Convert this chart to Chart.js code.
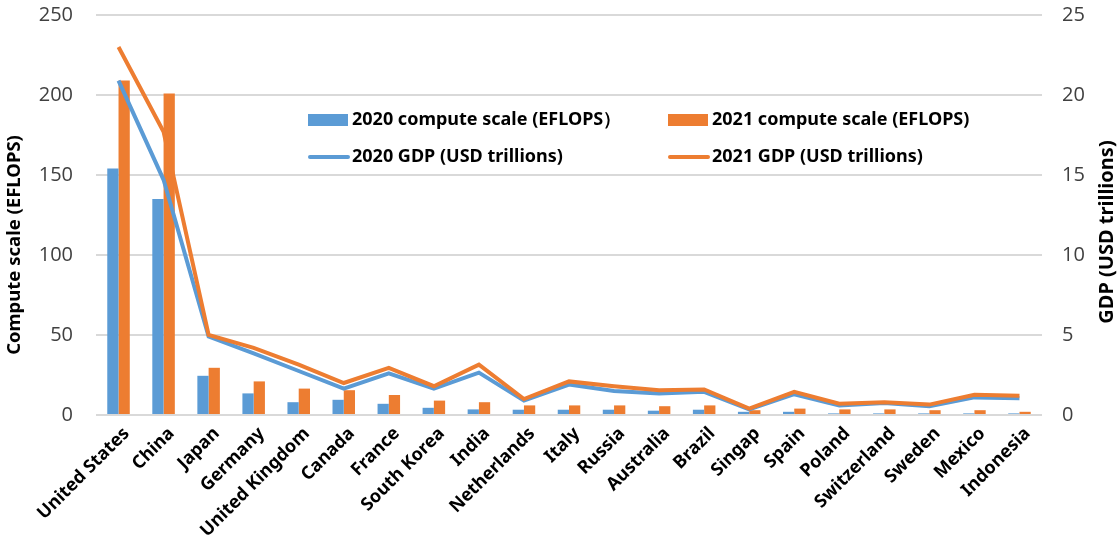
<!DOCTYPE html>
<html>
<head>
<meta charset="utf-8">
<title>Compute scale and GDP by country</title>
<script src="https://cdn.jsdelivr.net/npm/chart.js@4.4.1/dist/chart.umd.min.js"></script>
<style>
  html, body { margin: 0; padding: 0; background: #fff; }
  #wrap { width: 1117px; height: 542px; position: relative; }
</style>
</head>
<body>
<div id="wrap"><canvas id="computeChart"></canvas></div>
<script>
// data
const countries = ['United States', 'China', 'Japan', 'Germany', 'United Kingdom', 'Canada', 'France',
  'South Korea', 'India', 'Netherlands', 'Italy', 'Russia', 'Australia', 'Brazil', 'Singap', 'Spain',
  'Poland', 'Switzerland', 'Sweden', 'Mexico', 'Indonesia'];
const compute2020 = [154, 135, 24.5, 13.5, 8, 9.5, 7, 4.5, 3.5, 3.3, 3.3, 3.3, 2.7, 3.3, 2, 2, 1, 1, 1, 1, 1];
const compute2021 = [209, 201, 29.5, 21, 16.5, 15.5, 12.5, 9, 8, 6, 6, 6, 5.5, 6, 3, 4, 3.5, 3.5, 3, 3, 2];
const gdp2020 = [20.9, 14.7, 4.9, 3.85, 2.75, 1.65, 2.6, 1.65, 2.65, 0.9, 1.9, 1.5, 1.35, 1.45, 0.35, 1.3, 0.6, 0.75, 0.55, 1.1, 1.05];
const gdp2021 = [23.0, 17.7, 5.0, 4.2, 3.15, 2.0, 2.95, 1.8, 3.15, 1.0, 2.1, 1.8, 1.55, 1.6, 0.4, 1.45, 0.7, 0.8, 0.65, 1.27, 1.2];
const computeTicks = [0, 50, 100, 150, 200, 250];
const gdpTicks = [0, 5, 10, 15, 20, 25];

const BLUE = '#5b9bd5';
const ORANGE = '#ed7d31';
const boldFont = '"Noto Sans", "DejaVu Sans", sans-serif';
const tickFont = '"Open Sans", "Noto Sans", sans-serif';

// legend drawn as a 2x2 block inside the plot area
const gridLegend = {
  id: 'gridLegend',
  afterDraw(chart) {
    const ctx = chart.ctx;
    const cols = [308, 668];
    const rows = [120, 157];
    ctx.save();
    ctx.font = 'bold 18px ' + boldFont;
    ctx.textBaseline = 'middle';
    ctx.textAlign = 'left';
    chart.data.datasets.forEach((ds, i) => {
      const x = cols[i % 2];
      const y = rows[Math.floor(i / 2)];
      if (ds.type === 'line') {
        ctx.strokeStyle = ds.borderColor;
        ctx.lineWidth = 4;
        ctx.lineCap = 'round';
        ctx.beginPath();
        ctx.moveTo(x + 2, y);
        ctx.lineTo(x + 40, y);
        ctx.stroke();
      } else {
        ctx.fillStyle = ds.backgroundColor;
        ctx.fillRect(x, y - 6, 40, 12);
      }
      ctx.fillStyle = '#000';
      ctx.fillText(ds.label, x + 44, y);
    });
    ctx.restore();
  }
};

// vertical axis titles
function drawVerticalTitle(ctx, text, x, y, size) {
  ctx.save();
  ctx.font = 'bold ' + size + 'px ' + boldFont;
  ctx.fillStyle = '#000';
  ctx.textAlign = 'center';
  ctx.textBaseline = 'middle';
  ctx.translate(x, y);
  ctx.rotate(-Math.PI / 2);
  ctx.fillText(text, 0, 0);
  ctx.restore();
}

const axisTitles = {
  id: 'axisTitles',
  afterDraw(chart) {
    drawVerticalTitle(chart.ctx, 'Compute scale (EFLOPS)', 15, 245, 18.5);
    drawVerticalTitle(chart.ctx, 'GDP (USD trillions)', 1107, 232, 20);
  }
};

// keep the plot edges fixed: top gridline at 15px, no extra label padding
function pinVertical(width) {
  return function (scale) {
    scale.width = width;
    scale.paddingTop = 15;
    scale.paddingBottom = 0;
  };
}

new Chart(document.getElementById('computeChart'), {
  data: {
    labels: countries,
    datasets: [
      { type: 'bar', label: '2020 compute scale (EFLOPS）', data: compute2020, backgroundColor: BLUE,
        yAxisID: 'y', order: 2, categoryPercentage: 0.5, barPercentage: 1.0 },
      { type: 'bar', label: '2021 compute scale (EFLOPS)', data: compute2021, backgroundColor: ORANGE,
        yAxisID: 'y', order: 3, categoryPercentage: 0.5, barPercentage: 1.0 },
      { type: 'line', label: '2020 GDP (USD trillions)', data: gdp2020, borderColor: BLUE,
        borderWidth: 4, pointRadius: 0, tension: 0, yAxisID: 'y1', order: 1 },
      { type: 'line', label: '2021 GDP (USD trillions)', data: gdp2021, borderColor: ORANGE,
        borderWidth: 4, pointRadius: 0, tension: 0, yAxisID: 'y1', order: 0 }
    ]
  },
  options: {
    responsive: true,
    maintainAspectRatio: false,
    animation: false,
    layout: { padding: 0 },
    plugins: {
      legend: { display: false },
      tooltip: { enabled: false }
    },
    scales: {
      x: {
        grid: { display: false },
        border: { display: false },
        ticks: {
          autoSkip: false,
          maxRotation: 45,
          minRotation: 45,
          padding: 0,
          labelOffset: 8,
          color: '#000',
          font: { family: boldFont, size: 18, weight: 'bold' }
        },
        afterFit(scale) { scale.height = 127; }
      },
      y: {
        position: 'left',
        min: computeTicks[0],
        max: computeTicks[computeTicks.length - 1],
        afterBuildTicks(scale) { scale.ticks = computeTicks.map(v => ({ value: v })); },
        grid: { color: '#d9d9d9', lineWidth: 2, drawTicks: false },
        border: { display: false },
        ticks: { padding: 23, color: '#404040', font: { family: tickFont, size: 20 } },
        afterFit: pinVertical(96)
      },
      y1: {
        position: 'right',
        min: gdpTicks[0],
        max: gdpTicks[gdpTicks.length - 1],
        afterBuildTicks(scale) { scale.ticks = gdpTicks.map(v => ({ value: v })); },
        grid: { display: false, drawTicks: false },
        border: { display: false },
        ticks: { padding: 20, color: '#404040', font: { family: tickFont, size: 20 } },
        afterFit: pinVertical(75)
      }
    }
  },
  plugins: [gridLegend, axisTitles]
});
</script>
</body>
</html>
